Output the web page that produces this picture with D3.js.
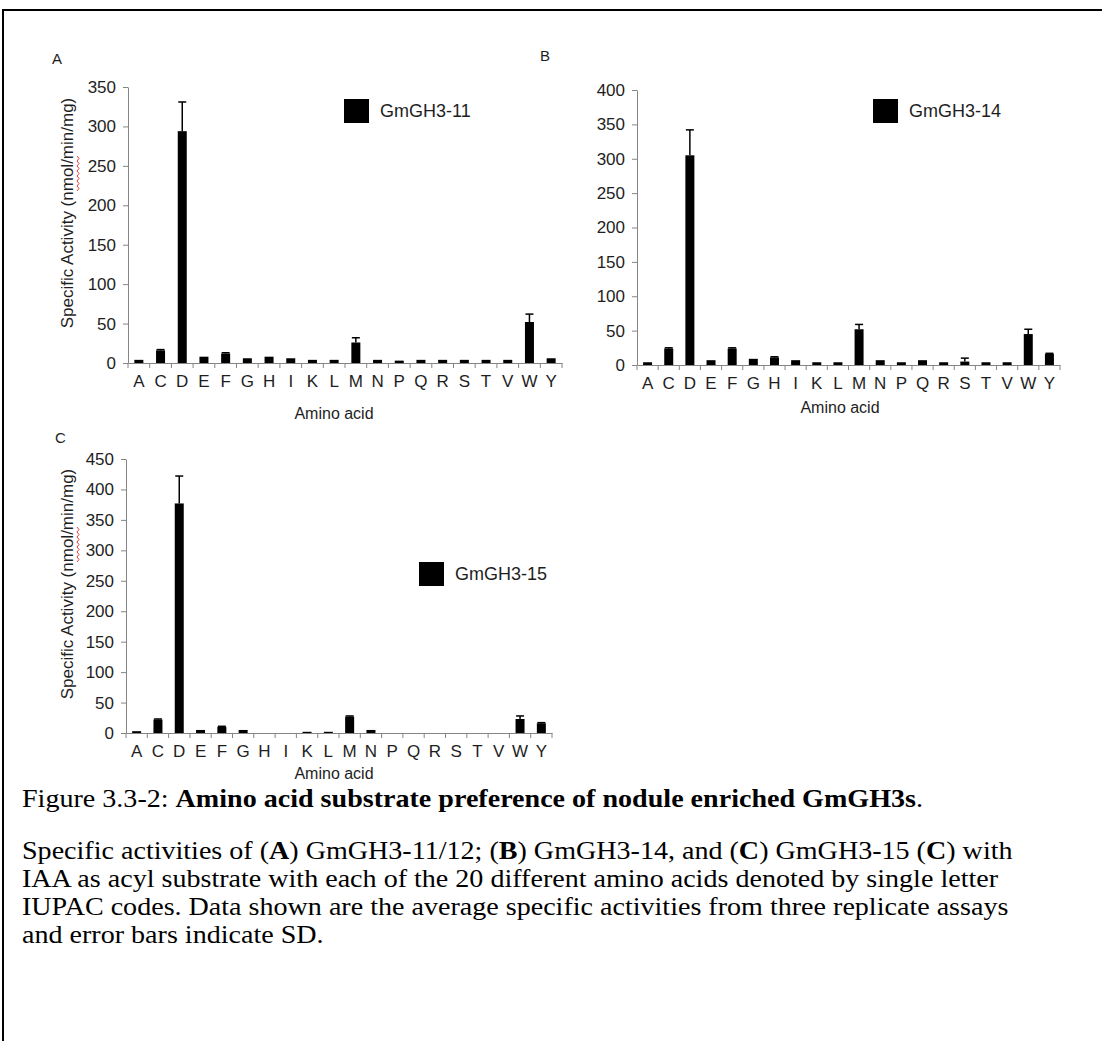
<!DOCTYPE html>
<html>
<head>
<meta charset="utf-8">
<script src="https://cdn.jsdelivr.net/npm/d3@7"></script>
<style>
  body { margin: 0; background: #fff; }
  svg { display: block; }
</style>
</head>
<body>
<div id="figure"></div>
<script>
// amino acids on the x axis (single letter IUPAC codes)
const aminoAcids = ["A", "C", "D", "E", "F", "G", "H", "I", "K", "L", "M", "N", "P", "Q", "R", "S", "T", "V", "W", "Y"];

// specific activity (nmol/min/mg), mean and SD
const gh11Values = [4, 16, 294, 8, 12, 6, 8, 6, 4, 4, 26, 4, 3, 4, 4, 4, 4, 4, 52, 6];
const gh11Errors = [0, 1, 37, 0, 1, 0, 0, 0, 0, 0, 6, 0, 0, 0, 0, 0, 0, 0, 10, 0];
const gh14Values = [4, 24, 305, 7, 24, 9, 11, 7, 4, 4, 52, 7, 4, 7, 4, 5, 4, 4, 45, 16];
const gh14Errors = [0, 1, 37, 0, 1, 0, 1, 0, 0, 0, 7, 0, 0, 0, 0, 5, 0, 0, 7, 1];
const gh15Values = [3, 22, 377, 5, 10, 5, 0, 0, 2, 2, 27, 5, 0, 0, 0, 0, 0, 0, 23, 16];
const gh15Errors = [0, 1, 45, 0, 1, 0, 0, 0, 0, 0, 1, 0, 0, 0, 0, 0, 0, 0, 5, 1];

const ticksA = [0, 50, 100, 150, 200, 250, 300, 350];
const ticksB = [0, 50, 100, 150, 200, 250, 300, 350, 400];
const ticksC = [0, 50, 100, 150, 200, 250, 300, 350, 400, 450];

const yTitle = "Specific Activity (nmol/min/mg)";
const xTitle = "Amino acid";

const captionLines = [
    [["Figure 3.3-2: ", false], ["Amino acid substrate preference of nodule enriched GmGH3s", true], [".", false]],
    [["Specific activities of (", false], ["A", true], [") GmGH3-11/12; (", false], ["B", true], [") GmGH3-14, and (", false], ["C", true], [") GmGH3-15 (", false], ["C", true], [") with", false]],
    [["IAA as acyl substrate with each of the 20 different amino acids denoted by single letter", false]],
    [["IUPAC codes. Data shown are the average specific activities from three replicate assays", false]],
    [["and error bars indicate SD.", false]]
];

const width = 1102, height = 1041;
const sans = "'Liberation Sans', Arial, sans-serif";
const serif = "'Liberation Serif', 'Times New Roman', serif";
const axisColor = "#858585";
const textColor = "#1e1e1e";

const svg = d3.select("#figure").append("svg")
    .attr("width", width)
    .attr("height", height);

svg.append("rect")
    .attr("width", width).attr("height", height)
    .attr("fill", "#fff");

// page frame (runs off the right and bottom edge)
svg.append("rect")
    .attr("x", 3).attr("y", 10)
    .attr("width", 1110).attr("height", 1050)
    .attr("fill", "none")
    .attr("stroke", "#000")
    .attr("stroke-width", 2);

function drawPanel(p) {
    const g = svg.append("g");

    const x = d3.scaleBand()
        .domain(aminoAcids)
        .range([p.left, p.right]);

    const y = d3.scaleLinear()
        .domain([0, d3.max(p.ticks)])
        .range([p.bottom, p.top]);

    // y axis
    const yAxis = g.append("g")
        .attr("transform", `translate(${p.left},0)`)
        .call(d3.axisLeft(y).tickValues(p.ticks).tickSize(5).tickSizeOuter(0).tickPadding(7));
    yAxis.select(".domain").attr("stroke", axisColor);
    yAxis.selectAll(".tick line").attr("stroke", axisColor);
    yAxis.selectAll(".tick text")
        .attr("fill", textColor)
        .style("font-family", sans)
        .style("font-size", "17px");

    // x axis: labels centred on the bands, tick marks on band edges
    const xAxis = g.append("g")
        .attr("transform", `translate(0,${p.bottom})`)
        .call(d3.axisBottom(x).tickSize(0).tickSizeOuter(0).tickPadding(12));
    xAxis.select(".domain").attr("stroke", axisColor);
    xAxis.selectAll(".tick text")
        .attr("fill", textColor)
        .style("font-family", sans)
        .style("font-size", "17px");

    const edges = aminoAcids.map(d => x(d)).concat([p.right]);
    g.append("g")
        .selectAll("line")
        .data(edges)
        .join("line")
        .attr("x1", d => d).attr("x2", d => d)
        .attr("y1", p.bottom).attr("y2", p.bottom + 5)
        .attr("stroke", axisColor);

    // bars
    const rows = aminoAcids.map((a, i) => ({ a, v: p.values[i], e: p.errors[i] }));
    const barW = 9;

    g.append("g")
        .selectAll("rect")
        .data(rows)
        .join("rect")
        .attr("x", d => x(d.a) + (x.bandwidth() - barW) / 2)
        .attr("y", d => y(d.v))
        .attr("width", barW)
        .attr("height", d => p.bottom - y(d.v))
        .attr("fill", "#000");

    // error bars (upper half only)
    const err = g.append("g")
        .attr("stroke", "#000")
        .attr("stroke-width", 1.5)
        .selectAll("g")
        .data(rows.filter(d => d.e > 0))
        .join("g");
    err.append("line")
        .attr("x1", d => x(d.a) + x.bandwidth() / 2)
        .attr("x2", d => x(d.a) + x.bandwidth() / 2)
        .attr("y1", d => y(d.v))
        .attr("y2", d => y(d.v + d.e));
    err.append("line")
        .attr("x1", d => x(d.a) + x.bandwidth() / 2 - 4)
        .attr("x2", d => x(d.a) + x.bandwidth() / 2 + 4)
        .attr("y1", d => y(d.v + d.e))
        .attr("y2", d => y(d.v + d.e));

    // axis title
    g.append("text")
        .attr("x", p.xTitle[0])
        .attr("y", p.xTitle[1])
        .attr("text-anchor", "middle")
        .attr("fill", textColor)
        .style("font-family", sans)
        .style("font-size", "16px")
        .text(xTitle);

    if (p.yTitle) {
        g.append("text")
            .attr("transform", `translate(${p.yTitle[0]},${p.yTitle[1]}) rotate(-90)`)
            .attr("text-anchor", "middle")
            .attr("fill", textColor)
            .style("font-family", sans)
            .style("font-size", "17px")
            .text(yTitle);

        // red spell-check squiggle under "nmol"
        const y0 = p.yTitle[1] - 57, y1 = p.yTitle[1] - 20;
        const pts = d3.range(y0, y1 + 0.1, 2.5).map((v, i) => [p.yTitle[0] + 4 + (i % 2 ? 2 : 0), v]);
        g.append("path")
            .attr("d", d3.line()(pts))
            .attr("fill", "none")
            .attr("stroke", "#e0403a")
            .attr("stroke-width", 1);
    }

    // legend
    g.append("rect")
        .attr("x", p.legend[0]).attr("y", p.legend[1])
        .attr("width", 25).attr("height", 24)
        .attr("fill", "#000");
    g.append("text")
        .attr("x", p.legend[0] + 36)
        .attr("y", p.legend[1] + 18)
        .attr("fill", textColor)
        .style("font-family", sans)
        .style("font-size", "18px")
        .text(p.name);

    // panel letter
    g.append("text")
        .attr("x", p.letterPos[0])
        .attr("y", p.letterPos[1])
        .attr("fill", textColor)
        .style("font-family", sans)
        .style("font-size", "15px")
        .text(p.letter);
}

drawPanel({
    letter: "A", letterPos: [52, 64], name: "GmGH3-11",
    left: 128, right: 562, bottom: 363, top: 87,
    ticks: ticksA, values: gh11Values, errors: gh11Errors,
    legend: [344, 99], xTitle: [334, 419], yTitle: [73, 213]
});

drawPanel({
    letter: "B", letterPos: [540, 61], name: "GmGH3-14",
    left: 637, right: 1060, bottom: 365, top: 90,
    ticks: ticksB, values: gh14Values, errors: gh14Errors,
    legend: [873, 99], xTitle: [840, 413], yTitle: null
});

drawPanel({
    letter: "C", letterPos: [55, 443], name: "GmGH3-15",
    left: 126, right: 552, bottom: 733, top: 459,
    ticks: ticksC, values: gh15Values, errors: gh15Errors,
    legend: [419, 562], xTitle: [334, 779], yTitle: [73, 584]
});

// caption (the scanned page is a little stretched sideways)
const caption = svg.append("g")
    .style("font-family", serif)
    .style("font-size", "26px")
    .attr("fill", "#000");

const lineY = [807, 859, 887, 915, 943];
captionLines.forEach((segs, i) => {
    const t = caption.append("text")
        .attr("transform", `translate(22,${lineY[i]}) scale(1.08,1)`);
    t.selectAll("tspan")
        .data(segs)
        .join("tspan")
        .attr("font-weight", d => d[1] ? "bold" : "normal")
        .text(d => d[0]);
});
</script>
</body>
</html>
